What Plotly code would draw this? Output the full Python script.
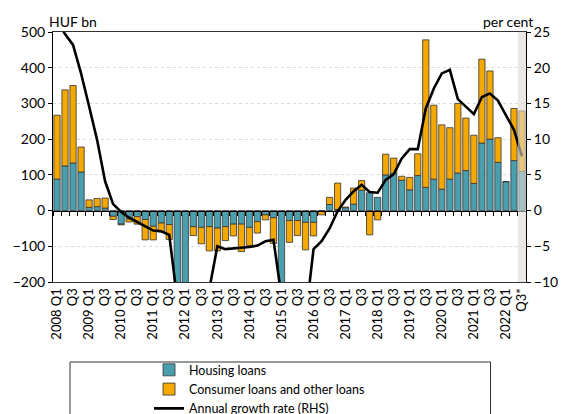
import plotly.graph_objects as go

years = list(range(2008, 2023))
quarters = [f"{y} Q{q}" for y in years for q in range(1, 5)][:59]

housing = [88, 125, 133, 108, 9, 11, 7, -16,
           -38, -24, -17, -25, -44, -35, -39, -260,
           -290, -45, -47, -45, -49, -45, -38, -38,
           -47, -31, -12, -20, -240, -28, -28, -33,
           -33, -1, 17, 3, 8, 18, 57, 50,
           37, 100, 104, 85, 58, 98, 65, 88,
           60, 88, 105, 112, 76, 189, 200, 135,
           81, 140, 110]
consumer = [179, 213, 217, 70, 21, 23, 28, -9,
            -2, -8, -21, -57, -38, -25, -42, -2,
            -2, -25, -46, -68, -64, -39, -33, -77,
            -51, -32, -14, -72, -2, -61, -42, -77,
            -38, -11, 20, 74, 2, 45, 27, -68,
            -26, 58, 43, 11, 35, 61, 413, 207,
            180, 144, 195, 147, 135, 235, 191, 69,
            0, 146, 169]
growth = [26.5, 24.7, 23.2, 19.2, 14.6, 9.9, 4.1, 0.9,
          -0.2, -1.0, -1.6, -2.2, -2.8, -2.9, -3.4, -12.5,
          -13.5, -13.5, -12.5, -11.0, -5.0, -5.4, -5.3, -5.3,
          -5.1, -4.9, -4.3, -4.1, -12.0, -13.0, -14.0, -15.0,
          -5.4, -4.3, -2.5, -0.1, 1.5, 2.7, 3.6, 2.6,
          2.5, 4.3, 5.1, 7.3, 8.6, 8.6, 14.3, 17.1,
          19.2, 19.7, 15.6, 14.6, 13.5, 15.9, 16.4, 15.4,
          13.4, 11.3, 7.6]
tick_labels = ["2008 Q1", "Q3", "2009 Q1", "Q3", "2010 Q1", "Q3", "2011 Q1", "Q3",
               "2012 Q1", "Q3", "2013 Q1", "Q3", "2014 Q1", "Q3", "2015 Q1", "Q3",
               "2016 Q1", "Q3", "2017 Q1", "Q3", "2018 Q1", "Q3", "2019 Q1", "Q3",
               "2020 Q1", "Q3", "2021 Q1", "Q3", "2022 Q1", "Q3*"]

FONT = "Lato"
TEAL = "#4a9faf"
ORANGE = "#f5a800"
n = len(quarters)

fig = go.Figure()
fig.add_trace(go.Bar(x=quarters, y=housing, name="Housing loans",
                     marker=dict(color=TEAL, line=dict(color="#333333", width=0.8))))
fig.add_trace(go.Bar(x=quarters, y=consumer, name="Consumer loans and other loans",
                     marker=dict(color=ORANGE, line=dict(color="#333333", width=0.8))))
fig.add_trace(go.Scatter(x=quarters, y=growth, name="Annual growth rate (RHS)",
                         yaxis="y2", mode="lines",
                         line=dict(color="black", width=2.6)))
# invisible trace to carry the zero-line axis
fig.add_trace(go.Scatter(x=quarters, y=[0] * n, xaxis="x2", yaxis="y",
                         mode="lines", line=dict(width=0), showlegend=False,
                         hoverinfo="skip"))

fig.update_layout(
    width=563, height=414,
    margin=dict(l=53, r=37, t=32, b=132, autoexpand=False),
    barmode="relative", bargap=0.22,
    plot_bgcolor="white", paper_bgcolor="white",
    font=dict(family=FONT, size=13, color="black"),
    showlegend=True,
    legend=dict(orientation="v", x=0.203, xanchor="left",
                yref="container", y=0.142, yanchor="top",
                bgcolor="rgba(0,0,0,0)", font=dict(size=12.5, family=FONT),
                tracegroupgap=0, itemwidth=30),
    xaxis=dict(type="category", range=[-0.5, n - 0.5], tickmode="array",
               tickvals=quarters[::2], ticktext=tick_labels, tickangle=-90,
               ticks="", showline=True, linecolor="#333333", linewidth=1,
               mirror=True, showgrid=False, automargin=False,
               tickfont=dict(size=13, family=FONT)),
    xaxis2=dict(type="category", overlaying="x", anchor="free", position=2 / 7,
                range=[-0.5, n - 0.5], tickmode="array", tickvals=quarters,
                tickson="boundaries", ticks="outside", ticklen=4, tickcolor="black",
                showticklabels=False, showline=True, linecolor="black", linewidth=1,
                showgrid=False, side="bottom"),
    yaxis=dict(range=[-200, 500], dtick=100, showline=True, linecolor="black",
               ticks="outside", ticklen=4, tickcolor="black", zeroline=False,
               showgrid=True, gridcolor="#d9d9d9", griddash="dot", gridwidth=1,
               automargin=False, tickfont=dict(size=14, family=FONT)),
    yaxis2=dict(range=[-10, 25], dtick=5, overlaying="y", side="right",
                showline=True, linecolor="black", ticks="outside", ticklen=4,
                tickcolor="black", zeroline=False, showgrid=False,
                automargin=False, tickfont=dict(size=14, family=FONT)),
    shapes=[
        dict(type="rect", xref="x", yref="paper", x0=n - 1.5, x1=n - 0.5, y0=0, y1=1,
             fillcolor="rgba(222,216,210,0.6)", line=dict(width=0), layer="above"),
        dict(type="rect", xref="paper", yref="paper", x0=0.036, x1=0.925,
             y0=-0.32, y1=-0.6, line=dict(color="#333333", width=1),
             fillcolor="rgba(0,0,0,0)"),
    ],
    annotations=[
        dict(text="HUF bn", xref="paper", yref="paper", x=-0.012, y=1.0,
             xanchor="left", yanchor="bottom", showarrow=False,
             font=dict(size=14, family=FONT)),
        dict(text="per cent", xref="paper", yref="paper", x=1.02, y=1.0,
             xanchor="right", yanchor="bottom", showarrow=False,
             font=dict(size=14, family=FONT)),
    ],
)

fig.write_html("out.html", config={"displayModeBar": False},
               post_script="document.body.style.margin='0px';"
                           "document.body.style.overflow='hidden';")
